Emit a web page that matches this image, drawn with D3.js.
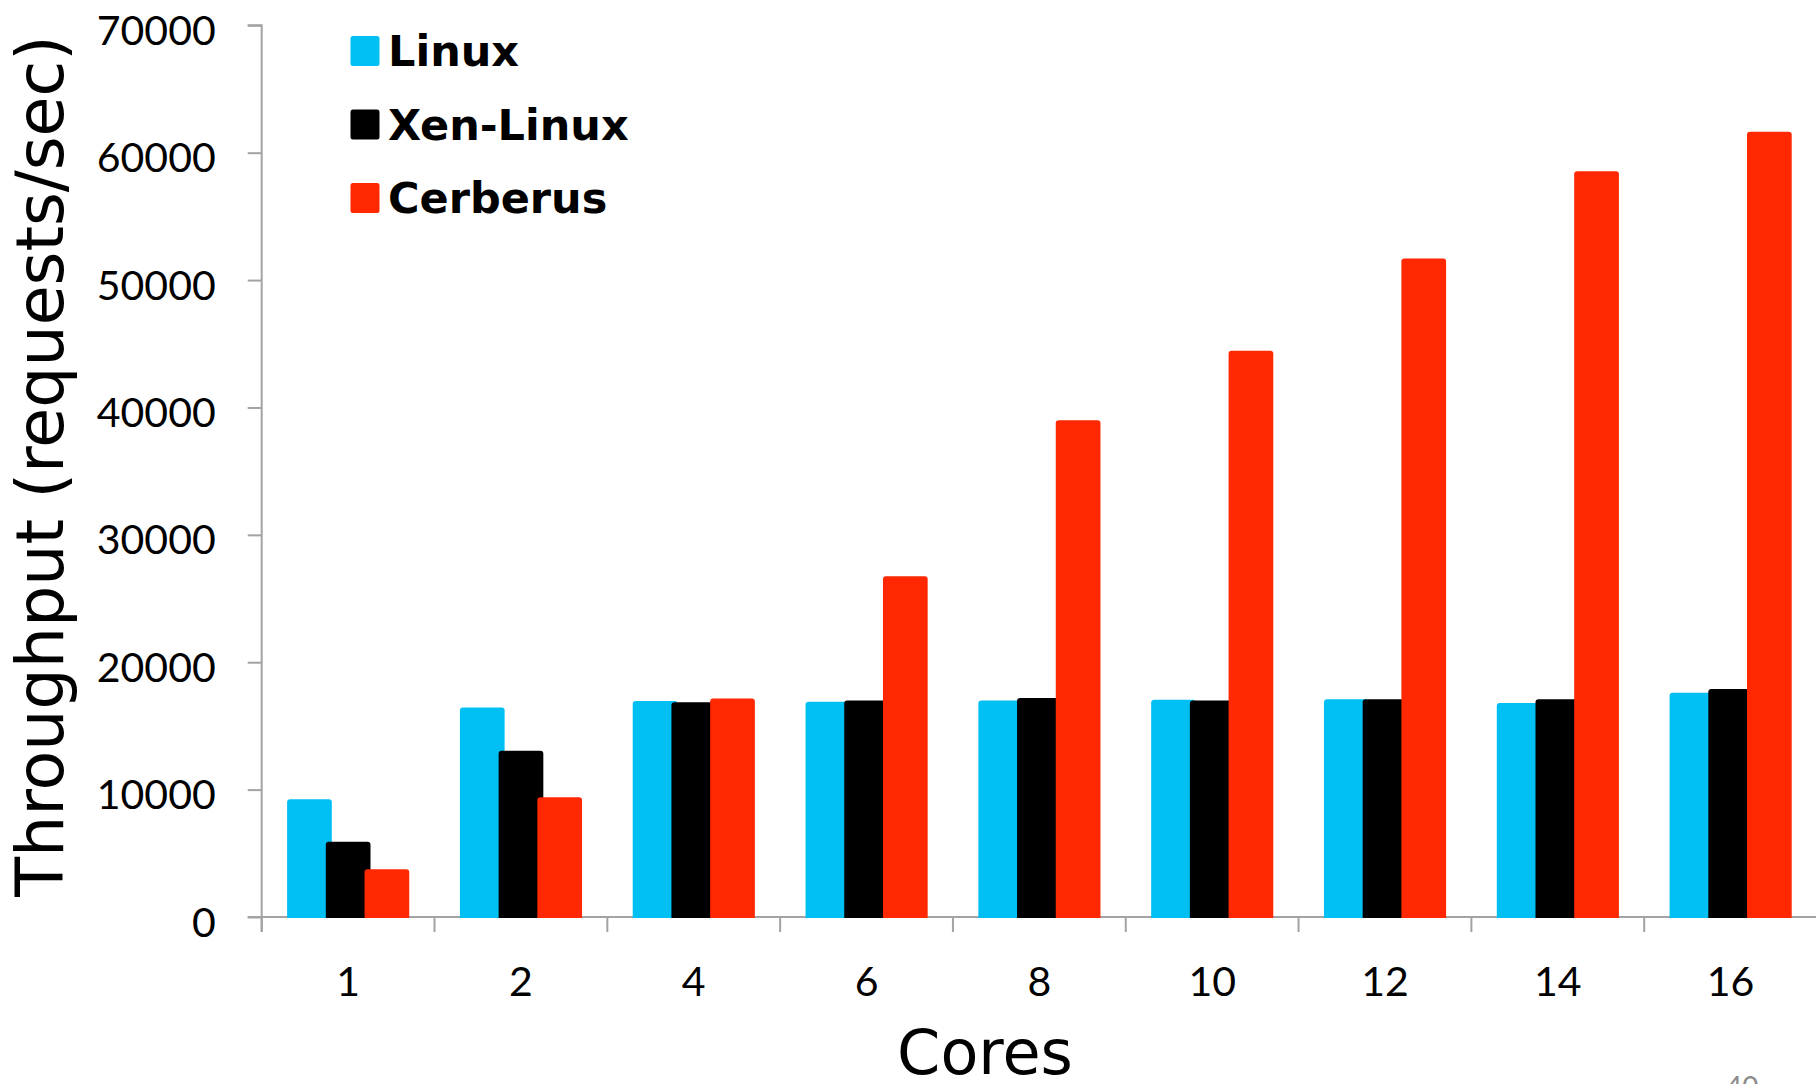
<!DOCTYPE html>
<html>
<head>
<meta charset="utf-8">
<script src="https://cdn.jsdelivr.net/npm/d3@7"></script>
<style>
  html, body { margin: 0; padding: 0; background: #ffffff; overflow: hidden; }
  svg { display: block; }
</style>
</head>
<body>
<svg id="chart" width="1816" height="1084"></svg>
<script>
// Web server throughput by core count
const categories = ["1", "2", "4", "6", "8", "10", "12", "14", "16"];
const linux      = [9250, 16450, 16950, 16900, 17000, 17050, 17100, 16800, 17600];
const xenLinux   = [5900, 13050, 16850, 17000, 17200, 17000, 17100, 17100, 17900];
const cerberus   = [3750, 9400, 17150, 26750, 39000, 44450, 51700, 58550, 61650];
const seriesNames  = ["Linux", "Xen-Linux", "Cerberus"];
const seriesColors = ["#00BFF3", "#000000", "#FF2800"];
const yTickValues  = [0, 10000, 20000, 30000, 40000, 50000, 60000, 70000];

const seriesValues = [linux, xenLinux, cerberus];

const svg = d3.select("#chart");
const axisColor = "#a3a3a3";
const tickFont = "Lato, 'Open Sans', sans-serif";
const titleFont = "'DejaVu Sans', Verdana, sans-serif";

// plot frame
const plotLeft = 261.7, plotRight = 1817, plotTop = 25.3, plotBottom = 917;

const x = d3.scaleBand().domain(categories).range([plotLeft, plotRight]).padding(0);
const y = d3.scaleLinear().domain([0, 70000]).range([plotBottom, plotTop]);

const bw = x.bandwidth();
const barW = bw * 0.2587;      // single bar width
const barStep = bw * 0.224;    // neighbouring bars overlap slightly
const groupStart = bw * 0.147; // offset of first bar inside its band

// ---- y axis
const yAxis = d3.axisLeft(y)
  .tickValues(yTickValues)
  .tickFormat(d3.format("d"))
  .tickSize(14)
  .tickPadding(32);

const gy = svg.append("g")
  .attr("transform", `translate(${plotLeft},0)`)
  .call(yAxis);
gy.select(".domain").attr("stroke", axisColor).attr("stroke-width", 2)
  .attr("d", `M-14,${plotTop}H0V${plotBottom + 15}`);
gy.selectAll(".tick line").attr("stroke", axisColor).attr("stroke-width", 2);
gy.selectAll(".tick text")
  .attr("fill", "#000")
  .attr("dy", "19px")
  .style("font-family", tickFont)
  .style("font-size", "41px");

// ---- x axis line and category boundary ticks
const gx = svg.append("g");
gx.append("line")
  .attr("x1", plotLeft - 14).attr("x2", 1816)
  .attr("y1", plotBottom).attr("y2", plotBottom)
  .attr("stroke", axisColor).attr("stroke-width", 2);

const boundaries = categories.map(c => x(c)).concat([x(categories[categories.length - 1]) + bw]);
gx.selectAll("line.bound")
  .data(boundaries)
  .join("line")
  .attr("class", "bound")
  .attr("x1", d => d).attr("x2", d => d)
  .attr("y1", plotBottom).attr("y2", plotBottom + 15)
  .attr("stroke", axisColor).attr("stroke-width", 2);

gx.selectAll("text.cat")
  .data(categories)
  .join("text")
  .attr("class", "cat")
  .attr("x", d => x(d) + bw / 2)
  .attr("y", plotBottom + 79)
  .attr("text-anchor", "middle")
  .style("font-family", tickFont)
  .style("font-size", "41px")
  .attr("fill", "#000")
  .text(d => d);

// ---- bars (top corners slightly rounded)
function topRounded(x0, y0, w, h, r) {
  r = Math.min(r, h / 2, w / 2);
  return `M${x0},${y0 + h}V${y0 + r}Q${x0},${y0} ${x0 + r},${y0}` +
         `H${x0 + w - r}Q${x0 + w},${y0} ${x0 + w},${y0 + r}V${y0 + h}Z`;
}

const bars = svg.append("g");
seriesValues.forEach((vals, si) => {
  bars.append("g")
    .selectAll("path")
    .data(vals.map((v, i) => ({ cat: categories[i], v })))
    .join("path")
    .attr("fill", seriesColors[si])
    .attr("d", d => {
      const x0 = x(d.cat) + groupStart + si * barStep;
      const yTop = y(d.v);
      return topRounded(x0, yTop, barW, plotBottom + 1 - yTop, 3);
    });
});

// ---- legend
const legend = svg.append("g");
const legendRows = [66, 139.5, 213];
seriesNames.forEach((name, i) => {
  legend.append("rect")
    .attr("x", 350.5).attr("y", legendRows[i] - 30)
    .attr("width", 29).attr("height", 30)
    .attr("rx", 2.5)
    .attr("fill", seriesColors[i]);
  legend.append("text")
    .attr("x", 388).attr("y", legendRows[i])
    .style("font-family", titleFont)
    .style("font-weight", "bold")
    .style("font-size", "43px")
    .attr("fill", "#000")
    .text(name);
});

// ---- axis titles
svg.append("text")
  .attr("transform", "translate(63,466) rotate(-90)")
  .attr("text-anchor", "middle")
  .style("font-family", titleFont)
  .style("font-size", "65px")
  .attr("fill", "#000")
  .text("Throughput (requests/sec)");

svg.append("text")
  .attr("x", 985).attr("y", 1074)
  .attr("text-anchor", "middle")
  .style("font-family", titleFont)
  .style("font-size", "62px")
  .attr("fill", "#000")
  .text("Cores");

// slide number in the lower right corner
svg.append("text")
  .attr("x", 1726).attr("y", 1097)
  .style("font-family", tickFont)
  .style("font-size", "28px")
  .attr("fill", "#8c8c8c")
  .text("40");
</script>
</body>
</html>
